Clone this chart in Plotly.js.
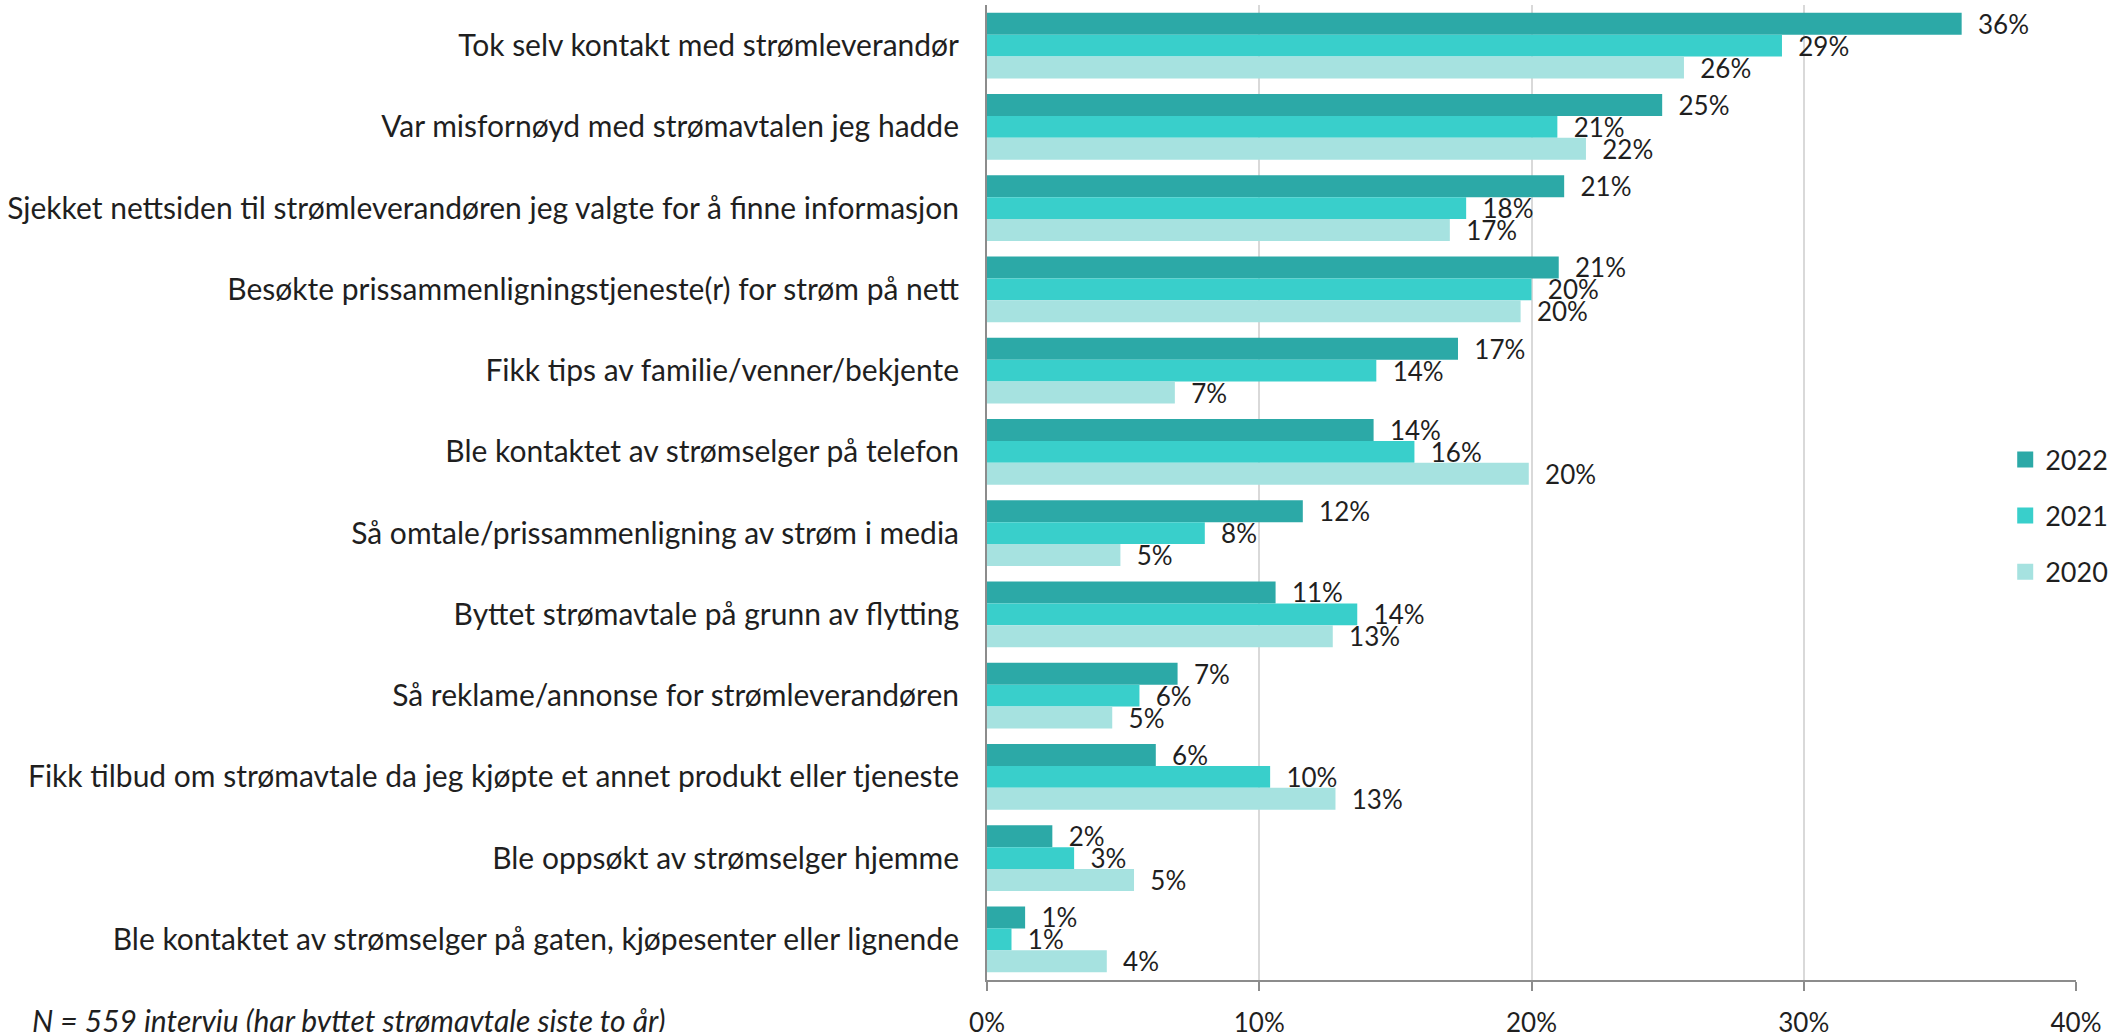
<!DOCTYPE html>
<html>
<head>
<meta charset="utf-8">
<script src="https://cdn.plot.ly/plotly-3.0.1.min.js"></script>
<style>html,body{margin:0;padding:0;background:#fff;}#chart{width:2126px;height:1032px;}</style>
</head>
<body>
<div id="chart"></div>
<script>
const categories = [
  "Tok selv kontakt med strømleverandør",
  "Var misfornøyd med strømavtalen jeg hadde",
  "Sjekket nettsiden til strømleverandøren jeg valgte for å finne informasjon",
  "Besøkte prissammenligningstjeneste(r) for strøm på nett",
  "Fikk tips av familie/venner/bekjente",
  "Ble kontaktet av strømselger på telefon",
  "Så omtale/prissammenligning av strøm i media",
  "Byttet strømavtale på grunn av flytting",
  "Så reklame/annonse for strømleverandøren",
  "Fikk tilbud om strømavtale da jeg kjøpte et annet produkt eller tjeneste",
  "Ble oppsøkt av strømselger hjemme",
  "Ble kontaktet av strømselger på gaten, kjøpesenter eller lignende"
];
const years = ["2022", "2021", "2020"];
const values2022 = [35.8, 24.8, 21.2, 21.0, 17.3, 14.2, 11.6, 10.6, 7.0, 6.2, 2.4, 1.4];
const values2021 = [29.2, 20.95, 17.6, 20.0, 14.3, 15.7, 8.0, 13.6, 5.6, 10.4, 3.2, 0.9];
const values2020 = [25.6, 22.0, 17.0, 19.6, 6.9, 19.9, 4.9, 12.7, 4.6, 12.8, 5.4, 4.4];
const xTickVals = [0, 10, 20, 30, 40];
const xTickText = ["0%", "10%", "20%", "30%", "40%"];
const footnote = "N = 559 interviu (har byttet strømavtale siste to år)";

const colors = ["#2CA9A7", "#39CFCB", "#A6E2E0"];
const seriesValues = [values2022, values2021, values2020];
const FONT = "Lato, 'Open Sans', sans-serif";
const TXT = "#1f1f1f";

const traces = [];
seriesValues.forEach((vals, i) => {
  traces.push({
    type: "bar",
    orientation: "h",
    name: years[i],
    y: categories,
    x: vals,
    marker: {color: colors[i]},
    texttemplate: "\u00a0\u00a0%{x:.0f}%",
    textposition: "outside",
    constraintext: "none",
    cliponaxis: false,
    textfont: {family: FONT, size: 26, color: TXT},
    hoverinfo: "skip",
    showlegend: false
  });
});
years.forEach((yr, i) => {
  traces.push({
    type: "scatter",
    mode: "markers",
    name: yr,
    x: [null],
    y: [null],
    marker: {symbol: "square", size: 18, color: colors[i]},
    legendgroup: yr,
    showlegend: true,
    hoverinfo: "skip"
  });
});

const layout = {
  width: 2126,
  height: 1032,
  margin: {l: 987, r: 50, t: 5, b: 52},
  paper_bgcolor: "#ffffff",
  plot_bgcolor: "#ffffff",
  barmode: "group",
  bargap: 0.19,
  bargroupgap: 0,
  font: {family: FONT, color: TXT},
  showlegend: true,
  legend: {
    x: 0.935, xanchor: "left",
    y: 0.476, yanchor: "middle",
    bgcolor: "rgba(0,0,0,0)",
    font: {family: FONT, size: 27, color: TXT},
    tracegroupgap: 18
  },
  xaxis: {
    range: [0, 40],
    tickvals: xTickVals,
    ticktext: xTickText,
    showgrid: true,
    gridcolor: "#d9d9d9",
    gridwidth: 2,
    zeroline: false,
    showline: true,
    linecolor: "#8c8c8c",
    linewidth: 2,
    ticks: "outside",
    ticklen: 9,
    tickwidth: 2,
    tickcolor: "#8c8c8c",
    ticklabelstandoff: 10,
    tickfont: {family: FONT, size: 26, color: TXT},
    fixedrange: true
  },
  yaxis: {
    type: "category",
    autorange: "reversed",
    showgrid: false,
    zeroline: false,
    showline: true,
    linecolor: "#8c8c8c",
    linewidth: 2,
    ticks: "",
    ticklabelstandoff: 20,
    tickfont: {family: FONT, size: 30, color: TXT},
    fixedrange: true
  },
  annotations: [{
    text: footnote,
    xref: "paper", yref: "paper",
    x: (30 - 987) / 1089, xanchor: "left",
    y: (980 - 1000) / 975, yanchor: "top",
    showarrow: false,
    font: {family: FONT, size: 30, color: TXT, style: "italic"}
  }]
};

Plotly.newPlot("chart", traces, layout, {displayModeBar: false, staticPlot: true});
</script>
</body>
</html>
